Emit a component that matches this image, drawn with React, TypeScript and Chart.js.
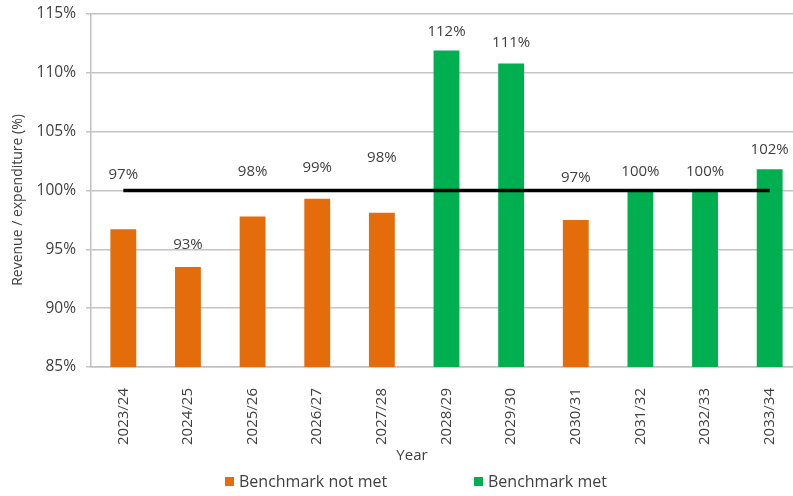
import React, { useEffect, useRef } from "react";
import { Chart, registerables } from "chart.js";

Chart.register(...registerables);

const categories = ["2023/24", "2024/25", "2025/26", "2026/27", "2027/28", "2028/29", "2029/30", "2030/31", "2031/32", "2032/33", "2033/34"];
const ratios = [96.7, 93.5, 97.8, 99.3, 98.1, 111.9, 110.8, 97.5, 100.0, 100.0, 101.8];
const valueLabels = ["97%", "93%", "98%", "99%", "98%", "112%", "111%", "97%", "100%", "100%", "102%"];
const labelAnchors = [101.3, 95.4, 101.6, 101.9, 102.8, 113.5, 112.6, 101.1, 101.6, 101.6, 103.5];
const benchmarkMet = [false, false, false, false, false, true, true, false, true, true, true];
const benchmarkLevel = [100, 100, 100, 100, 100, 100, 100, 100, 100, 100, 100];
const legendLabels = ["Benchmark not met", "Benchmark met"];
const yTitle = "Revenue / expenditure (%)";
const xTitle = "Year";

const ORANGE = "#E46C0A";
const GREEN = "#00B050";
const FONT = "'Open Sans', 'DejaVu Sans', sans-serif";

export default function App() {
  const ref = useRef<HTMLCanvasElement | null>(null);

  useEffect(() => {
    const canvas = ref.current;
    if (!canvas) return;

    const overlay = {
      id: "overlay",
      afterDatasetsDraw(chart: any) {
        const ctx = chart.ctx;
        const meta = chart.getDatasetMeta(1);
        const y = chart.scales.y;
        ctx.save();
        ctx.fillStyle = "#404040";
        ctx.font = `15px ${FONT}`;
        ctx.textAlign = "center";
        ctx.textBaseline = "middle";
        meta.data.forEach((bar: any, i: number) => {
          ctx.fillText(valueLabels[i], bar.x, y.getPixelForValue(labelAnchors[i]));
        });
        ctx.restore();
      },
      afterDraw(chart: any) {
        const ctx = chart.ctx;
        ctx.save();
        ctx.fillStyle = "#404040";
        ctx.font = `14px ${FONT}`;
        ctx.textAlign = "center";
        ctx.textBaseline = "middle";
        ctx.translate(18, 200);
        ctx.rotate(-Math.PI / 2);
        ctx.fillText(yTitle, 0, 0);
        ctx.restore();

        ctx.save();
        ctx.fillStyle = "#404040";
        ctx.font = `15px ${FONT}`;
        ctx.textAlign = "center";
        ctx.textBaseline = "middle";
        ctx.fillText(xTitle, 412, 456);

        ctx.font = `16px ${FONT}`;
        ctx.textAlign = "left";
        const items = [
          { x: 225, color: ORANGE, text: legendLabels[0] },
          { x: 474, color: GREEN, text: legendLabels[1] },
        ];
        items.forEach((it) => {
          ctx.fillStyle = it.color;
          ctx.fillRect(it.x, 477, 9, 9);
          ctx.fillStyle = "#404040";
          ctx.fillText(it.text, it.x + 14, 482);
        });
        ctx.restore();
      },
    };

    const chart = new Chart(canvas, {
      data: {
        labels: categories,
        datasets: [
          {
            type: "line",
            label: "Benchmark",
            data: benchmarkLevel,
            borderColor: "#000000",
            borderWidth: 3.5,
            pointRadius: 0,
            fill: false,
            order: 0,
          } as any,
          {
            type: "bar",
            label: "Revenue / expenditure",
            data: ratios,
            backgroundColor: benchmarkMet.map((m) => (m ? GREEN : ORANGE)),
            barPercentage: 0.4,
            categoryPercentage: 1,
            order: 1,
          } as any,
        ],
      },
      options: {
        animation: false,
        responsive: false,
        devicePixelRatio: 1,
        layout: { padding: { top: 14, left: 0, right: 10, bottom: 0 } },
        plugins: {
          legend: { display: false },
          tooltip: { enabled: false },
        },
        scales: {
          x: {
            grid: { display: false },
            border: { display: true, color: "#bfbfbf", width: 1.5 },
            ticks: {
              minRotation: 90,
              maxRotation: 90,
              padding: 13,
              color: "#404040",
              font: { family: FONT, size: 15 },
            },
            afterFit: (s: any) => {
              s.height = 129;
            },
          },
          y: {
            min: 85,
            max: 115,
            ticks: {
              stepSize: 5,
              padding: 10,
              color: "#404040",
              font: { family: FONT, size: 15.5 },
              callback: (v: any) => `${v}%`,
            },
            grid: { color: "#c4c4c4", lineWidth: 1.5, tickLength: 5 },
            border: { display: true, color: "#bfbfbf", width: 1.5 },
            afterFit: (s: any) => {
              s.width = 91;
              s.paddingTop = 0;
              s.paddingBottom = 0;
            },
          },
        },
      } as any,
      plugins: [overlay],
    });

    return () => chart.destroy();
  }, []);

  return (
    <div style={{ position: "fixed", left: 0, top: 0, width: 793, height: 496, overflow: "hidden", background: "#fff" }}>
      <canvas ref={ref} width={812} height={496} style={{ width: 812, height: 496, display: "block" }} />
    </div>
  );
}
